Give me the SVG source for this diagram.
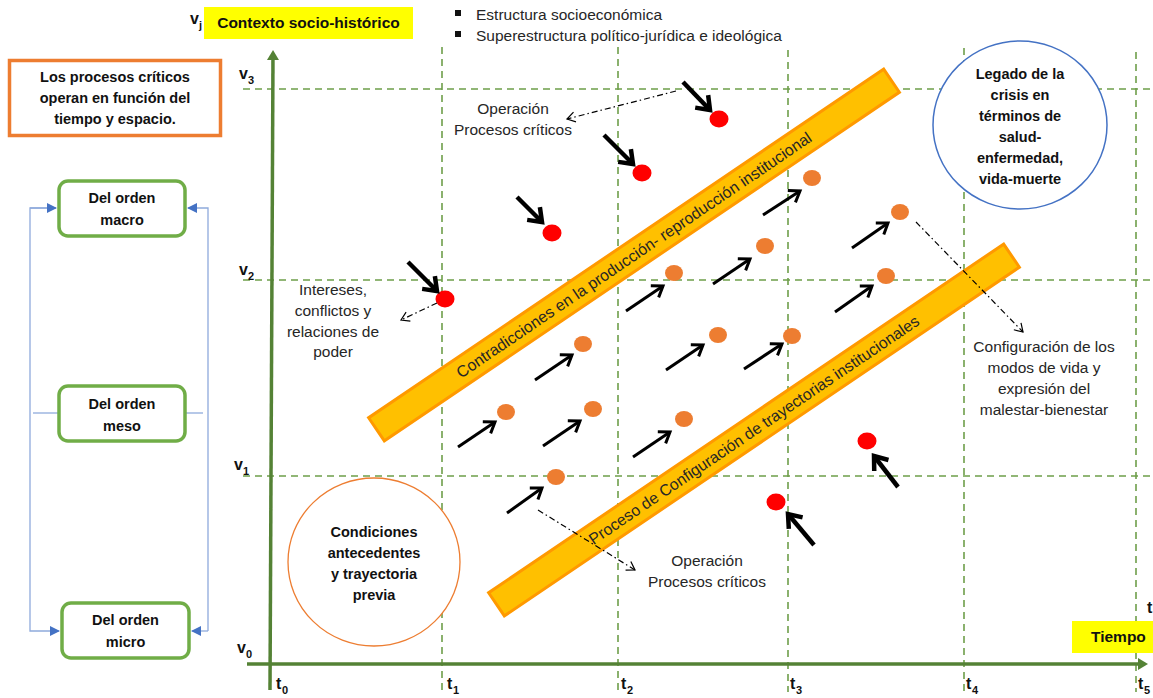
<svg xmlns="http://www.w3.org/2000/svg" width="1153" height="698" viewBox="0 0 1153 698">
<style>
text{font-family:"Liberation Sans",Arial,sans-serif;fill:#262626}
.b{font-weight:bold;font-size:14.5px;fill:#111}
.r{font-size:15.5px}
.grid{stroke:#6E9E4A;stroke-width:1.6;stroke-dasharray:7,5;fill:none}
.axis{stroke:#548235;stroke-width:3.5;fill:none}
.box{fill:#fff;stroke:#70AD47;stroke-width:3.5}
.blue{stroke:#8FAADC;stroke-width:1.3;fill:none}
.red{fill:#FF0000}
.org{fill:#ED7D31}
.thick{stroke:#000;stroke-width:4.5;fill:none;marker-end:url(#hThick)}
.thin{stroke:#000;stroke-width:3;fill:none;marker-end:url(#hThin)}
.dd{stroke:#000;stroke-width:1.2;fill:none;stroke-dasharray:6,3,1.5,3;marker-end:url(#hDD)}
.bar{fill:#FFC000;stroke:#FF9900;stroke-width:3}
.ax{font-weight:bold;font-size:16px;fill:#111}
.sub{font-weight:bold;font-size:11px;fill:#111}
</style>
<defs>
<marker id="hThick" markerUnits="userSpaceOnUse" markerWidth="24" markerHeight="24" refX="15" refY="10" orient="auto" overflow="visible">
<path d="M3,1 L15,10 L3,19" fill="none" stroke="#000" stroke-width="4.5"/>
</marker>
<marker id="hThin" markerUnits="userSpaceOnUse" markerWidth="20" markerHeight="20" refX="12" refY="8" orient="auto" overflow="visible">
<path d="M2,1 L12,8 L2,15" fill="none" stroke="#000" stroke-width="3"/>
</marker>
<marker id="hDD" markerUnits="userSpaceOnUse" markerWidth="14" markerHeight="14" refX="9" refY="5" orient="auto" overflow="visible">
<path d="M1,0 L9,5 L1,10" fill="none" stroke="#000" stroke-width="1.2"/>
</marker>
<marker id="hBlue" markerUnits="userSpaceOnUse" markerWidth="12" markerHeight="12" refX="9" refY="5" orient="auto" overflow="visible">
<path d="M0,0 L10,5 L0,10 Z" fill="#4472C4"/>
</marker>
<marker id="hAxis" markerUnits="userSpaceOnUse" markerWidth="14" markerHeight="14" refX="6" refY="6" orient="auto" overflow="visible">
<path d="M0,0 L10,6 L0,12 Z" fill="#548235"/>
</marker>
</defs>

<g id="grid">
<line class="grid" x1="243" y1="89" x2="1153" y2="89"/>
<line class="grid" x1="243" y1="280" x2="1153" y2="280"/>
<line class="grid" x1="243" y1="476" x2="1153" y2="476"/>
<line class="grid" x1="442" y1="47" x2="442" y2="692"/>
<line class="grid" x1="618" y1="47" x2="618" y2="692"/>
<line class="grid" x1="788" y1="50" x2="788" y2="692"/>
<line class="grid" x1="964" y1="48" x2="964" y2="692"/>
<line class="grid" x1="1136" y1="52" x2="1136" y2="692"/>
</g>

<g id="axes">
<line class="axis" x1="270" y1="690" x2="273" y2="54" marker-end="url(#hAxis)"/>
<line class="axis" x1="247" y1="664" x2="1144" y2="664" marker-end="url(#hAxis)"/>
<text class="ax" x="190" y="24">v</text><text class="sub" x="199" y="29">j</text>
<text class="ax" x="239" y="79">v</text><text class="sub" x="248" y="84">3</text>
<text class="ax" x="239" y="275">v</text><text class="sub" x="248" y="280">2</text>
<text class="ax" x="234" y="470">v</text><text class="sub" x="243" y="475">1</text>
<text class="ax" x="237" y="653">v</text><text class="sub" x="246" y="658">0</text>
<text class="ax" x="276" y="689">t</text><text class="sub" x="282" y="694">0</text>
<text class="ax" x="447" y="689">t</text><text class="sub" x="453" y="694">1</text>
<text class="ax" x="621" y="689">t</text><text class="sub" x="627" y="694">2</text>
<text class="ax" x="790" y="689">t</text><text class="sub" x="796" y="694">3</text>
<text class="ax" x="966" y="689">t</text><text class="sub" x="972" y="694">4</text>
<text class="ax" x="1138" y="689">t</text><text class="sub" x="1144" y="694">5</text>
<text class="ax" x="1147" y="613">t</text>
</g>

<g id="contexto">
<rect x="204" y="7" width="209" height="32" fill="#FFFF00"/>
<text class="b" x="308.5" y="28" text-anchor="middle" style="font-size:15.5px">Contexto socio-histórico</text>
</g>

<g id="bullets">
<rect x="455" y="10" width="6" height="6" fill="#111"/>
<text class="r" x="476" y="20">Estructura socioeconómica</text>
<rect x="455" y="31" width="6" height="6" fill="#111"/>
<text class="r" x="476" y="41">Superestructura político-jurídica e ideológica</text>
</g>

<g id="tiempo">
<rect x="1072" y="621" width="81" height="32" fill="#FFFF00"/>
<text class="b" x="1091" y="642" style="font-size:15.5px">Tiempo</text>
</g>

<g id="nota">
<rect x="9.5" y="60.5" width="211" height="75" fill="#fff" stroke="#ED7D31" stroke-width="3.5"/>
<text class="b" text-anchor="middle"><tspan x="115" y="82">Los procesos críticos</tspan><tspan x="115" y="103">operan en función del</tspan><tspan x="115" y="124">tiempo y espacio.</tspan></text>
</g>

<g id="blue-connectors">
<polyline class="blue" points="56,208 30,208 30,631 59,631" marker-end="url(#hBlue)"/>
<line class="blue" x1="30" y1="208" x2="56" y2="208" marker-end="url(#hBlue)"/>
<polyline class="blue" points="208,631 208,208 188,208" marker-end="url(#hBlue)"/>
<line class="blue" x1="208" y1="631" x2="192" y2="631" marker-end="url(#hBlue)"/>
<line class="blue" x1="33" y1="413" x2="58" y2="413"/>
<line class="blue" x1="186" y1="413" x2="203" y2="413"/>
</g>

<g id="macro">
<rect class="box" x="59" y="181" width="126" height="55" rx="9"/>
<text class="b" text-anchor="middle"><tspan x="122" y="203">Del orden</tspan><tspan x="122" y="225">macro</tspan></text>
</g>
<g id="meso">
<rect class="box" x="59" y="386" width="126" height="55" rx="9"/>
<text class="b" text-anchor="middle"><tspan x="122" y="409">Del orden</tspan><tspan x="122" y="431">meso</tspan></text>
</g>
<g id="micro">
<rect class="box" x="62" y="603" width="127" height="55" rx="9"/>
<text class="b" text-anchor="middle"><tspan x="125.5" y="625">Del orden</tspan><tspan x="125.5" y="647">micro</tspan></text>
</g>

<g id="legado">
<ellipse cx="1020" cy="125" rx="87" ry="84" fill="#fff" stroke="#4472C4" stroke-width="1.5"/>
<text class="b" text-anchor="middle"><tspan x="1020" y="79">Legado de la</tspan><tspan x="1020" y="100">crisis  en</tspan><tspan x="1020" y="121">términos de</tspan><tspan x="1020" y="142">salud-</tspan><tspan x="1020" y="163">enfermedad,</tspan><tspan x="1020" y="184">vida-muerte</tspan></text>
</g>

<g id="condiciones">
<ellipse cx="374" cy="562" rx="86" ry="84" fill="#fff" stroke="#ED7D31" stroke-width="1.3"/>
<text class="b" text-anchor="middle"><tspan x="374" y="537">Condiciones</tspan><tspan x="374" y="558">antecedentes</tspan><tspan x="374" y="579">y trayectoria</tspan><tspan x="374" y="600">previa</tspan></text>
</g>

<g id="bar-contradicciones" transform="translate(634,255) rotate(-34.1)">
<rect class="bar" x="-311" y="-14" width="622" height="28"/>
<text x="0" y="5.5" text-anchor="middle" font-size="16" textLength="425" lengthAdjust="spacingAndGlyphs" fill="#111">Contradicciones en la producción- reproducción institucional</text>
</g>

<g id="bar-configuracion" transform="translate(754,430) rotate(-34.1)">
<rect class="bar" x="-311" y="-14" width="622" height="28"/>
<text x="0" y="5.5" text-anchor="middle" font-size="16" textLength="395" lengthAdjust="spacingAndGlyphs" fill="#111">Proceso de Configuración de trayectorias institucionales</text>
</g>

<g id="labels">
<text class="r" text-anchor="middle"><tspan x="513" y="114">Operación</tspan><tspan x="513" y="135">Procesos críticos</tspan></text>
<text class="r" text-anchor="middle"><tspan x="333" y="295">Intereses,</tspan><tspan x="333" y="316">conflictos  y</tspan><tspan x="333" y="337">relaciones de</tspan><tspan x="333" y="357">poder</tspan></text>
<text class="r" text-anchor="middle"><tspan x="707" y="566">Operación</tspan><tspan x="707" y="587">Procesos críticos</tspan></text>
<text class="r" text-anchor="middle"><tspan x="1044" y="352">Configuración de los</tspan><tspan x="1044" y="373">modos de vida y</tspan><tspan x="1044" y="394">expresión del</tspan><tspan x="1044" y="415">malestar-bienestar</tspan></text>
</g>

<g id="dots">
<ellipse class="red" cx="719" cy="119" rx="9.5" ry="8.5"/>
<ellipse class="red" cx="642" cy="173" rx="9.5" ry="8.5"/>
<ellipse class="red" cx="552" cy="233" rx="9.5" ry="8.5"/>
<ellipse class="red" cx="445" cy="299" rx="9.5" ry="8.5"/>
<ellipse class="red" cx="867" cy="441" rx="9.5" ry="8.5"/>
<ellipse class="red" cx="776" cy="502" rx="9.5" ry="8.5"/>
<ellipse class="org" cx="812" cy="178" rx="9" ry="8"/>
<ellipse class="org" cx="900" cy="212" rx="9" ry="8"/>
<ellipse class="org" cx="765" cy="246" rx="9" ry="8"/>
<ellipse class="org" cx="674" cy="273" rx="9" ry="8"/>
<ellipse class="org" cx="886" cy="276" rx="9" ry="8"/>
<ellipse class="org" cx="583" cy="344" rx="9" ry="8"/>
<ellipse class="org" cx="718" cy="335" rx="9" ry="8"/>
<ellipse class="org" cx="792" cy="336" rx="9" ry="8"/>
<ellipse class="org" cx="506" cy="412" rx="9" ry="8"/>
<ellipse class="org" cx="593" cy="409" rx="9" ry="8"/>
<ellipse class="org" cx="684" cy="419" rx="9" ry="8"/>
<ellipse class="org" cx="556" cy="477" rx="9" ry="8"/>
</g>

<g id="connectors">
<line class="thick" x1="683" y1="82" x2="710" y2="110"/>
<line class="thick" x1="604" y1="135" x2="633" y2="164"/>
<line class="thick" x1="517" y1="197" x2="542" y2="222"/>
<line class="thick" x1="408" y1="262" x2="437" y2="291"/>
<line class="thick" x1="898" y1="487" x2="874" y2="456"/>
<line class="thick" x1="814" y1="545" x2="788" y2="514"/>

<line class="thin" x1="713" y1="284" x2="750" y2="259"/>
<line class="thin" x1="626" y1="311" x2="663" y2="286"/>
<line class="thin" x1="535" y1="380" x2="572" y2="355"/>
<line class="thin" x1="666" y1="370" x2="703" y2="345"/>
<line class="thin" x1="744" y1="369" x2="782" y2="344"/>
<line class="thin" x1="458" y1="447" x2="495" y2="422"/>
<line class="thin" x1="543" y1="446" x2="580" y2="421"/>
<line class="thin" x1="633" y1="457" x2="670" y2="432"/>
<line class="thin" x1="507" y1="513" x2="542" y2="488"/>
<line class="thin" x1="763" y1="215" x2="800" y2="191"/>
<line class="thin" x1="852" y1="248" x2="888" y2="223"/>
<line class="thin" x1="835" y1="312" x2="872" y2="286"/>

<line class="dd" x1="676" y1="91" x2="567" y2="119"/>
<line class="dd" x1="437" y1="303" x2="401" y2="320"/>
<line class="dd" x1="538" y1="510" x2="635" y2="570"/>
<line class="dd" x1="916" y1="222" x2="1023" y2="332"/>
</g>
</svg>
